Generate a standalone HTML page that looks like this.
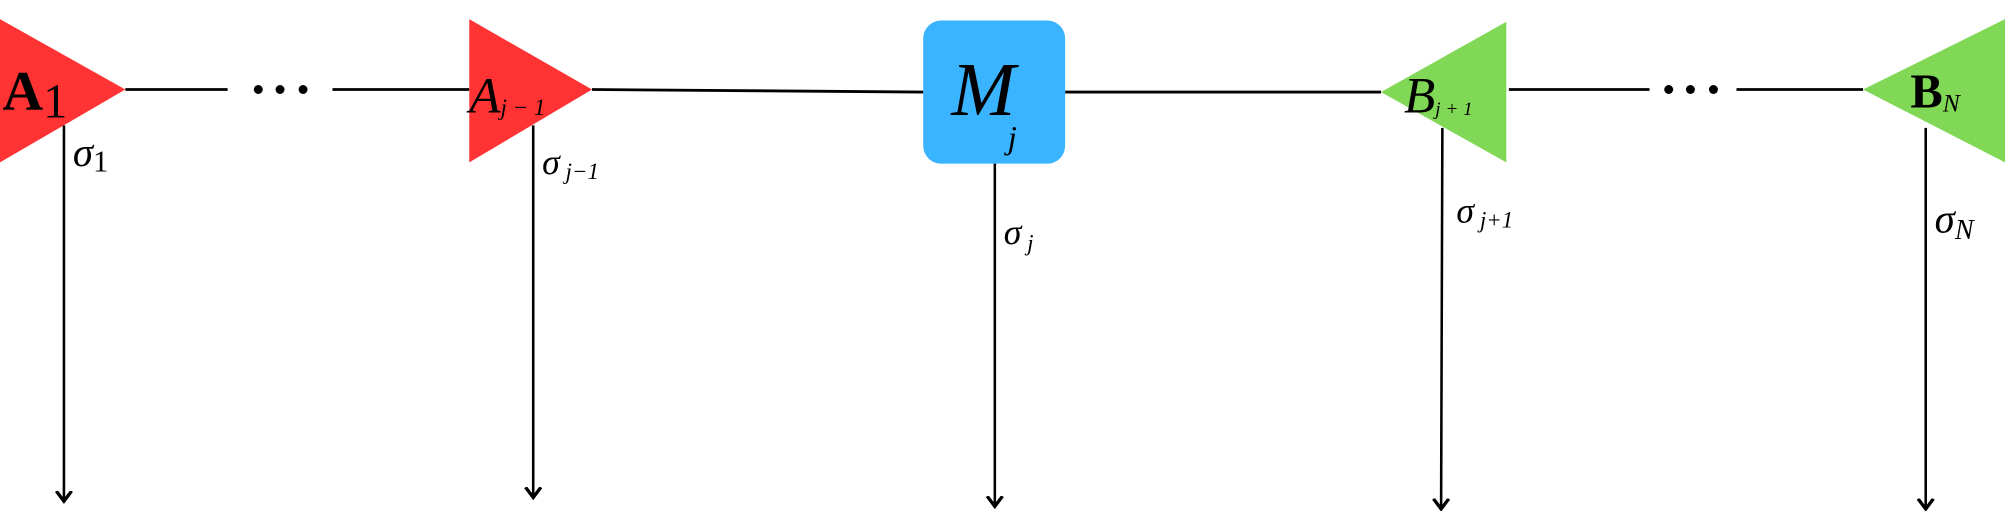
<!DOCTYPE html>
<html><head><meta charset="utf-8"><style>
html,body{margin:0;padding:0;background:#fff;width:2005px;height:511px;overflow:hidden}
svg{display:block}
text{font-family:"Liberation Serif","DejaVu Serif",serif;fill:#000}
</style></head><body>
<svg width="2005" height="511" viewBox="0 0 1568 399.6" preserveAspectRatio="none" xmlns="http://www.w3.org/2000/svg">
<defs><marker id="ar" markerWidth="8" markerHeight="8" refX="4" refY="4" orient="auto"><path d="M0,1 L4,4 L0,7" fill="none" stroke="#000" stroke-width="1.3"/></marker></defs>
<g stroke="#000" stroke-width="2.2">
<line x1="98" y1="70" x2="178" y2="70"/>
<line x1="260" y1="70" x2="367" y2="70"/>
<line x1="463" y1="70" x2="722" y2="72"/>
<line x1="833" y1="72" x2="1080" y2="72"/>
<line x1="1180" y1="70" x2="1290" y2="70"/>
<line x1="1358" y1="70" x2="1457" y2="70"/>
</g>
<g fill="#000">
<circle cx="202" cy="70" r="3.5"/><circle cx="219" cy="70" r="3.5"/><circle cx="237" cy="70" r="3.5"/>
<circle cx="1305" cy="70" r="3.5"/><circle cx="1322" cy="70" r="3.5"/><circle cx="1340" cy="70" r="3.5"/>
</g>
<polygon points="0,15 98,70 0,127" fill="#ff3333"/>
<polygon points="367,15 463,70 367,127" fill="#ff3333"/>
<rect x="722" y="16" width="111" height="112" rx="14" fill="#3ab4ff"/>
<polygon points="1178,17 1080,72 1178,127" fill="#80d856"/>
<polygon points="1568,15 1457,70 1568,127" fill="#80d856"/>
<g stroke="#000" stroke-width="2">
<line x1="50" y1="98" x2="50" y2="392" marker-end="url(#ar)"/>
<line x1="417" y1="98" x2="417" y2="389" marker-end="url(#ar)"/>
<line x1="778" y1="128" x2="778" y2="396" marker-end="url(#ar)"/>
<line x1="1128" y1="100" x2="1127" y2="398" marker-end="url(#ar)"/>
<line x1="1506" y1="100" x2="1506" y2="398" marker-end="url(#ar)"/>
</g>
<text x="2" y="86" font-size="44" font-weight="bold">A<tspan font-weight="normal" font-size="38" dy="6">1</tspan></text>
<text x="367" y="88" font-size="40" font-style="italic">A<tspan font-size="18" dy="2">j − 1</tspan></text>
<text x="744" y="90" font-size="60" font-style="italic">M<tspan font-size="26" dy="26" dx="-6">j</tspan></text>
<text x="1098" y="88" font-size="40" font-style="italic">B<tspan font-size="15" dy="2">j + 1</tspan></text>
<text x="1494" y="84" font-size="38" font-weight="bold">B<tspan font-size="20" font-style="italic" font-weight="normal" dy="3">N</tspan></text>
<text x="57" y="130" font-size="32" font-style="italic">σ<tspan font-style="normal" font-size="24" dy="4">1</tspan></text>
<text x="424" y="136" font-size="28" font-style="italic">σ<tspan font-size="18" dy="4"> j−1</tspan></text>
<text x="785" y="191" font-size="28" font-style="italic">σ<tspan font-size="18" dy="5"> j</tspan></text>
<text x="1139" y="174" font-size="28" font-style="italic">σ<tspan font-size="18" dy="4"> j+1</tspan></text>
<text x="1513" y="182" font-size="32" font-style="italic">σ<tspan font-size="22" dy="5">N</tspan></text>
</svg>
</body></html>
